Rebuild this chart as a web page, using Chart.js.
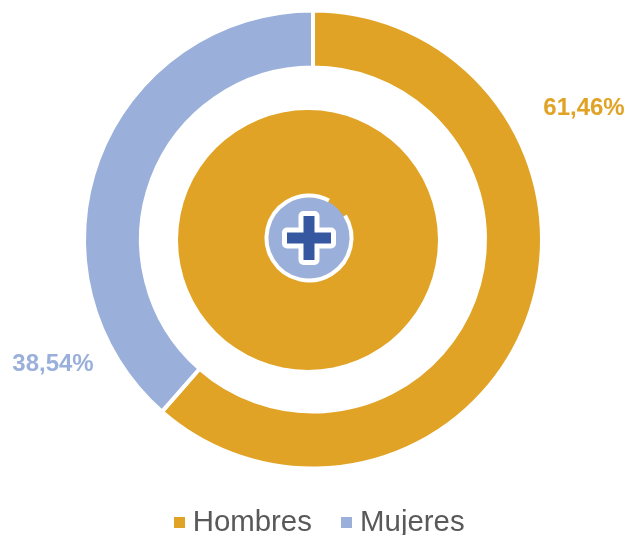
<!DOCTYPE html>
<html>
<head>
<meta charset="utf-8">
<title>Hombres y Mujeres</title>
<script src="https://cdn.jsdelivr.net/npm/chart.js@4"></script>
<style>
    html, body { margin: 0; padding: 0; background: #fff; width: 625px; height: 535px; overflow: hidden; }
    canvas { position: absolute; left: 0; top: 0; }
    #legend { position: absolute; left: 174px; top: 506px; display: flex; font: 29.4px "Liberation Sans", Arial, sans-serif; line-height: 30px; color: #595959; white-space: nowrap; }
    #legend .item { display: flex; align-items: flex-start; margin-right: 29.5px; }
    #legend .box { width: 11px; height: 11px; margin-right: 7.7px; margin-top: 11px; }
</style>
</head>
<body>
<canvas id="diskChart" width="625" height="535"></canvas>
<canvas id="ringChart" width="625" height="535"></canvas>
<div id="legend"></div>
<script>
const categories = ['Hombres', 'Mujeres'];
const ringValues = [61.46, 38.54];
const diskValues = [100];
const colors = ['#E0A325', '#9AB0DB'];

// etiquetas colocadas a mano, como en el original
const labelPos = [{ x: 584, y: 108 }, { x: 53, y: 364 }];

const ringLabels = {
    id: 'ringLabels',
    afterDraw(chart) {
        const ctx = chart.ctx;
        ctx.save();
        ctx.font = 'bold 24px "Liberation Sans", Arial, sans-serif';
        ctx.textAlign = 'center';
        ctx.textBaseline = 'middle';
        ringValues.forEach((v, i) => {
            ctx.fillStyle = colors[i];
            ctx.fillText(v.toFixed(2).replace('.', ',') + '%', labelPos[i].x, labelPos[i].y);
        });
        ctx.restore();
    }
};

// icono central de la cruz
const crossIcon = {
    id: 'crossIcon',
    afterDraw(chart) {
        const ctx = chart.ctx;
        const cx = 309, cy = 238;
        ctx.save();
        ctx.fillStyle = '#9AB0DB';
        ctx.beginPath();
        ctx.arc(cx, cy, 41, 0, Math.PI * 2);
        ctx.fill();

        ctx.strokeStyle = '#fff';
        ctx.lineWidth = 4;
        ctx.beginPath();
        ctx.arc(cx, cy, 42.5, -Math.PI / 2 + 58 * Math.PI / 180, -Math.PI / 2 + 28 * Math.PI / 180);
        ctx.stroke();

        const crossPath = () => {
            ctx.beginPath();
            ctx.moveTo(cx - 5.5, cy - 22);
            ctx.lineTo(cx + 5.5, cy - 22);
            ctx.lineTo(cx + 5.5, cy - 5.5);
            ctx.lineTo(cx + 22, cy - 5.5);
            ctx.lineTo(cx + 22, cy + 5.5);
            ctx.lineTo(cx + 5.5, cy + 5.5);
            ctx.lineTo(cx + 5.5, cy + 22);
            ctx.lineTo(cx - 5.5, cy + 22);
            ctx.lineTo(cx - 5.5, cy + 5.5);
            ctx.lineTo(cx - 22, cy + 5.5);
            ctx.lineTo(cx - 22, cy - 5.5);
            ctx.lineTo(cx - 5.5, cy - 5.5);
            ctx.closePath();
        };
        crossPath();
        ctx.strokeStyle = '#fff';
        ctx.lineWidth = 10;
        ctx.lineJoin = 'round';
        ctx.stroke();
        crossPath();
        ctx.fillStyle = '#3558A0';
        ctx.fill();
        ctx.restore();
    }
};

new Chart(document.getElementById('diskChart'), {
    type: 'pie',
    data: { datasets: [{ data: diskValues, backgroundColor: colors[0], borderWidth: 0 }] },
    options: {
        responsive: false,
        animation: false,
        layout: { padding: { left: 178, right: 187, top: 110, bottom: 165 } },
        plugins: { legend: { display: false }, tooltip: { enabled: false } }
    },
    plugins: [crossIcon]
});

new Chart(document.getElementById('ringChart'), {
    type: 'doughnut',
    data: {
        labels: categories,
        datasets: [{ data: ringValues, backgroundColor: colors, borderColor: '#fff', borderWidth: 4 }]
    },
    options: {
        responsive: false,
        animation: false,
        cutout: 172,
        layout: { padding: { left: 82, right: 81, top: 8, bottom: 64 } },
        plugins: { legend: { display: false }, tooltip: { enabled: false } }
    },
    plugins: [ringLabels]
});

const legend = document.getElementById('legend');
categories.forEach((name, i) => {
    const item = document.createElement('div');
    item.className = 'item';
    item.innerHTML = `<span class="box" style="background:${colors[i]}"></span><span>${name}</span>`;
    legend.appendChild(item);
});
</script>
</body>
</html>
